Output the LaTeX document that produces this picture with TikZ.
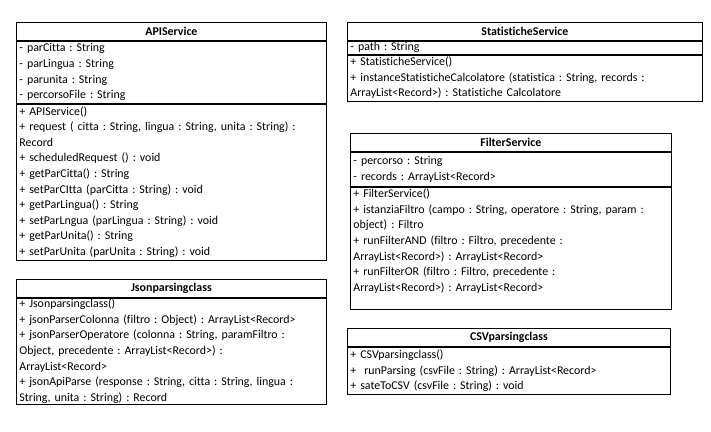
\documentclass[tikz,border=0pt]{standalone}
\usepackage{fontspec}
\setmainfont{Carlito}[Ligatures=NoCommon]
\frenchspacing
\usetikzlibrary{positioning}

\begin{document}
\begin{tikzpicture} [
		x=1pt, y=-1pt,
		classname/.style = { rectangle, draw=black, line width=0.8pt,
			font=\fontsize{11.9}{15.6}\selectfont\bfseries,
			minimum height=18pt, inner sep=0pt, anchor=north west },
		classpart/.style = { rectangle, draw=black, line width=0.8pt,
			font=\fontsize{11.9}{15.6}\selectfont, align=left,
			minimum width=#1, text width=#1-6pt,
			inner xsep=3pt, inner ysep=0pt },
	]
	\useasboundingbox (0,0) rectangle (711,431);
	% APIService
	\node [classname, minimum width=310pt] (api) at (16,22) {APIService};
	\node [classpart=310pt, minimum height=62pt, below=0pt of api] (apiattr) {- parCitta : String\\
		- parLingua : String\\
		- parunita : String\\
		- percorsoFile : String};
	\node [classpart=310pt, minimum height=156pt, below=0pt of apiattr] (apiop) {+ APIService()\\
		+ request ( citta : String, lingua : String, unita : String) :\\
		Record\\
		+ scheduledRequest () : void\\
		+ getParCitta() : String\\
		+ setParCItta (parCitta : String) : void\\
		+ getParLingua() : String\\
		+ setParLngua (parLingua : String) : void\\
		+ getParUnita() : String\\
		+ setParUnita (parUnita : String) : void};
	% StatisticheService
	\node [classname, minimum width=355pt] (stat) at (347,22) {StatisticheService};
	\node [classpart=355pt, minimum height=13pt, below=0pt of stat] (statattr) {- path : String};
	\node [classpart=355pt, minimum height=46pt, below=0pt of statattr] (statop) {+ StatisticheService()\\
		+ instanceStatisticheCalcolatore (statistica : String, records :\\
		ArrayList<Record>) : Statistiche Calcolatore};
	% FilterService
	\node [classname, minimum width=321pt] (filter) at (350,133) {FilterService};
	\node [classpart=321pt, minimum height=34pt, below=0pt of filter] (filterattr) {- percorso : String\\
		- records : ArrayList<Record>};
	\node [classpart=321pt, minimum height=122pt, below=0pt of filterattr] (filterop) {+ FilterService()\\
		+ istanziaFiltro (campo : String, operatore : String, param :\\
		object) : Filtro\\
		+ runFilterAND (filtro : Filtro, precedente :\\
		ArrayList<Record>) : ArrayList<Record>\\
		+ runFilterOR (filtro : Filtro, precedente :\\
		ArrayList<Record>) : ArrayList<Record>\\
		\mbox{}};
	% Jsonparsingclass
	\node [classname, minimum width=310pt] (json) at (16,279) {Jsonparsingclass};
	\node [classpart=310pt, minimum height=106pt, below=0pt of json] (jsonop) {+ Jsonparsingclass()\\
		+ jsonParserColonna (filtro : Object) : ArrayList<Record>\\
		+ jsonParserOperatore (colonna : String, paramFiltro :\\
		Object, precedente : ArrayList<Record>) :\\
		ArrayList<Record>\\
		+ jsonApiParse (response : String, citta : String, lingua :\\
		String, unita : String) : Record};
	% CSVparsingclass
	\node [classname, minimum width=323pt] (csv) at (347,328) {CSVparsingclass};
	\node [classpart=323pt, minimum height=47pt, below=0pt of csv] (csvop) {+ CSVparsingclass()\\
		+\ \ runParsing (csvFile : String) : ArrayList<Record>\\
		+ sateToCSV (csvFile : String) : void};
\end{tikzpicture}
\end{document}
